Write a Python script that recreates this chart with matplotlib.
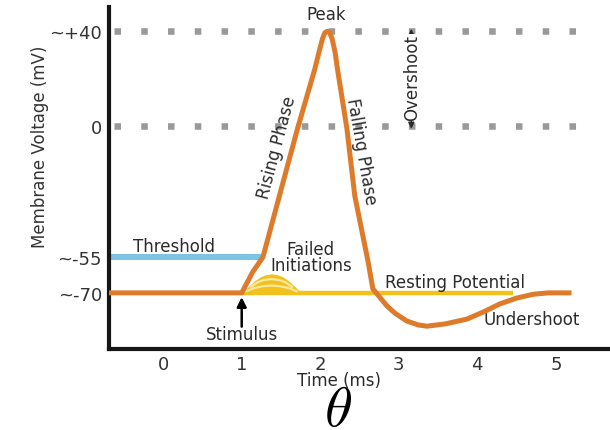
import matplotlib
matplotlib.use("Agg")
import matplotlib.pyplot as plt

# membrane potential trace (ms, mV)
ap_time = [-0.69, 1.0, 1.14, 1.27, 1.71, 1.93, 1.99, 2.03, 2.06, 2.09, 2.12, 2.15,
           2.19, 2.22, 2.34, 2.44, 2.61, 2.67, 2.85, 2.95, 3.1, 3.25, 3.36, 3.6,
           3.87, 4.08, 4.29, 4.5, 4.71, 4.9, 5.2]
ap_mv = [-70, -70, -61.2, -55, -1, 24, 32, 37, 39.4, 40, 39.4, 37,
         31, 24, -1, -29.2, -57, -68.3, -75.5, -78.5, -81.8, -83.5, -84, -83,
         -81, -78, -74.6, -72.2, -70.6, -70, -70]

# failed initiation bumps
fail_time = [1.0, 1.08, 1.16, 1.24, 1.31, 1.38, 1.45, 1.52, 1.6, 1.68, 1.76]
fail_outer = [-70, -67.5, -65, -63.2, -62.3, -62, -62.3, -63.2, -65, -67.5, -70]
arc1_time = [1.12, 1.2, 1.28, 1.38, 1.48, 1.56, 1.64]
arc1_mv = [-67.5, -65.6, -64.6, -64.2, -64.6, -65.6, -67.5]
arc2_time = [1.06, 1.16, 1.27, 1.38, 1.49, 1.6, 1.7]
arc2_mv = [-69.3, -68, -67.2, -66.9, -67.2, -68, -69.3]

resting_span = [1.0, 4.45]
threshold_span = [-0.69, 1.27]
guide_span = [-0.63, 5.27]

x_ticks = [0, 1, 2, 3, 4, 5]
y_ticks = [40, 0, -55, -70]
y_labels = ['~+40', '0', '~-55', '~-70']

orange = '#de7b2a'
yellow = '#f2c21c'
blue = '#7cc3e4'
grey = '#999999'
ink = '#2b2b2b'

plt.rcParams['mathtext.fontset'] = 'cm'
fig = plt.figure(figsize=(6.1, 4.31), dpi=100)
ax = fig.add_axes([109 / 610, 81 / 431, 501 / 610, 342 / 431])

# dotted guides at +40 and 0
for level in [40, 0]:
    ax.plot(guide_span, [level, level], color=grey, lw=4.7,
            linestyle=(0, (1, 3.1)), solid_capstyle='butt',
            dash_capstyle='butt', zorder=1)

ax.plot(threshold_span, [-55, -55], color=blue, lw=4.3,
        solid_capstyle='butt', zorder=2)
ax.plot(resting_span, [-70, -70], color=yellow, lw=3.2,
        solid_capstyle='butt', zorder=2)
ax.fill_between(fail_time, -70, fail_outer, color=yellow, lw=0, zorder=2)
ax.plot(arc1_time, arc1_mv, color='#fbe6a2', lw=1.6, zorder=3)
ax.plot(arc2_time, arc2_mv, color='#fbe6a2', lw=1.6, zorder=3)
ax.plot(ap_time, ap_mv, color=orange, lw=3.6, solid_joinstyle='round',
        solid_capstyle='butt', zorder=4)

# labels on the trace
tk = dict(color=ink, fontsize=12, ha='center', va='center')
ax.text(2.07, 47.3, 'Peak', **tk)
ax.text(1.446, -8.6, 'Rising Phase', rotation=75, **tk)
ax.text(2.516, -10.3, 'Falling Phase', rotation=-80, **tk)
ax.text(0.134, -50.3, 'Threshold', **tk)
ax.text(1.88, -54.9, 'Failed\nInitiations', linespacing=0.85, **tk)
ax.text(3.71, -65.4, 'Resting Potential', **tk)
ax.text(4.69, -81.0, 'Undershoot', **tk)
ax.text(1.01, -87.3, 'Stimulus', **tk)

ax.annotate('', xy=(3.16, 41), xytext=(3.16, -1),
            arrowprops=dict(arrowstyle='<|-|>', color=ink, lw=1,
                            mutation_scale=9, shrinkA=0, shrinkB=0))
ax.text(3.175, 20.6, 'Overshoot', rotation=90,
        bbox=dict(facecolor='white', edgecolor='none', pad=0.3), **tk)

ax.annotate('', xy=(1.0, -71.8), xytext=(1.0, -84.2),
            arrowprops=dict(arrowstyle='-|>', color='black', lw=1.8,
                            mutation_scale=14, shrinkA=0, shrinkB=0))

ax.set_xlim(-0.69, 5.69)
ax.set_ylim(-93.6, 50.2)
ax.set_xticks(x_ticks)
ax.set_yticks(y_ticks)
ax.set_yticklabels(y_labels)
ax.tick_params(length=0, labelsize=13, labelcolor='#333333')
ax.tick_params(axis='y', pad=5)
ax.tick_params(axis='x', pad=4)

for side in ['top', 'right']:
    ax.spines[side].set_visible(False)
for side in ['left', 'bottom']:
    ax.spines[side].set_linewidth(3)
    ax.spines[side].set_color('#161616')
    ax.spines[side].set_capstyle('projecting')

ax.set_xlabel('Time (ms)', fontsize=12, color=ink)
ax.xaxis.set_label_coords(0.459, -0.064)
fig.text(0.0656, 0.659, 'Membrane Voltage (mV)', rotation=90, fontsize=12,
         color='#333333', ha='center', va='center')

fig.text(0.554, 0.012, r'$\theta$', fontsize=41, ha='center', va='baseline')

fig.savefig('out.png', dpi=100, facecolor='white')
